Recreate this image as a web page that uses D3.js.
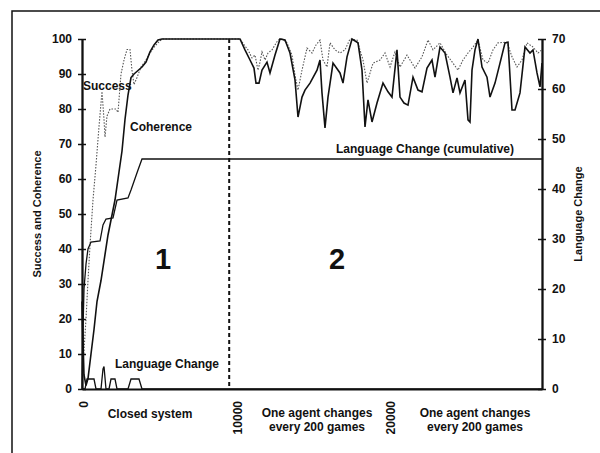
<!DOCTYPE html>
<html>
<head>
<meta charset="utf-8">
<script src="https://cdn.jsdelivr.net/npm/d3@7"></script>
<style>
  body { margin: 0; background: #fff; }
  svg { font-family: "Liberation Sans", Arial, sans-serif; }
  .tick text { font-size: 12px; font-weight: bold; fill: #111; }
  .tick line { stroke: #111; stroke-width: 1.5; }
  .domain { stroke: #111; stroke-width: 1.8; }
  .label { font-size: 12px; font-weight: bold; fill: #111; }
  .big { font-size: 29px; font-weight: bold; fill: #111; }
</style>
</head>
<body>
<div id="chart"></div>
<script>
// games, value (left axis, %)
const success = [
  [0,4],[130,11],[261,20],[391,31],[522,41],[717,54],[913,64],[1109,75],[1304,85],[1435,77],
  [1500,72],[1630,78],[1826,80],[2022,80],[2217,80],[2348,79],[2543,90],[2739,94],[2935,97],
  [3130,97],[3261,91],[3391,87],[3587,89],[3848,92],[4174,94],[4435,96],[4761,98],[5087,99.5],
  [5283,100],[9590,100],
  [10304,100],[10630,98],[10826,96.9],[11087,94.6],[11283,95.4],[11478,91.1],[11609,93.4],
  [11739,96.3],[11935,94],[12130,96],[12391,96.9],[12783,99.7],[13043,100],[13370,98.9],
  [13696,95.4],[13891,89.7],[14087,85.4],[14348,91.1],[14674,97.4],[15000,96],[15261,98.3],
  [15522,99.7],[15717,94],[15978,92],[16174,98.9],[16500,96.9],[16826,96],[17152,96.9],
  [17478,100],[17935,99.7],[18326,94],[18587,87.4],[18978,93.1],[19435,94],[19761,96],
  [20087,92],[20413,96.3],[20739,92],[21196,95.4],[21717,91.7],[22174,94.9],[22565,99.7],
  [22891,96.9],[23348,98.9],[23804,95.4],[24196,93.1],[24522,91.1],[24848,94],[25174,96],
  [25500,97.7],[25826,99.7],[26152,94],[26478,93.1],[26804,96.9],[27130,98.9],[27717,99.1],
  [28043,94.9],[28370,92],[28696,94],[29022,98.9],[29413,97.7],[29739,96],[30000,96.9]
];

const coherence = [
  [0,25],[65,14],[130,4],[261,1],[391,3],[587,10],[783,17],[978,25],[1239,31],[1696,44],
  [2152,54],[2413,62],[2609,68],[2804,77],[3000,84],[3196,89],[3391,90],[3652,91],[3913,92],
  [4174,93.4],[4435,96.3],[4696,98.3],[4957,99.7],[5217,100],[9590,100],
  [10304,100],[10630,96.9],[10957,94],[11217,91.7],[11348,87.4],[11543,87.4],[11739,91.1],
  [12065,93.4],[12261,90.3],[12587,95.4],[12913,100],[13239,99.7],[13565,96],[13891,88.3],
  [14087,77.7],[14348,83.4],[14543,85.4],[14870,87.4],[15326,91.1],[15522,94],[15652,84.6],
  [15848,74.6],[16043,83.4],[16370,93.1],[16826,90.3],[17022,87.4],[17283,94.9],[17609,100],
  [18000,98.9],[18261,91.1],[18457,74.9],[18652,82.6],[18913,76.3],[19239,81.7],[19630,87.4],
  [19957,84.9],[20217,83.4],[20543,96.9],[20739,83.4],[21000,81.7],[21261,81.1],[21587,89.1],
  [21913,85.4],[22174,84.9],[22500,91.7],[22826,94],[23022,89.1],[23348,97.7],[23674,96],
  [24000,89.1],[24196,84.6],[24457,88.9],[24652,84.6],[24978,88.3],[25174,76.9],[25304,76.3],
  [25435,91.1],[25630,96.9],[25826,100],[26087,92],[26413,89.1],[26609,83.4],[26935,87.4],
  [27261,93.1],[27587,98.9],[27783,99.1],[28043,79.7],[28239,79.7],[28565,84.6],[28891,97.7],
  [29217,96],[29413,96.9],[29674,90.3],[29870,86.3],[30000,93.1]
];

// games, value (right axis)
const cumulativeChange = [
  [0,0],[65,12],[130,20],[261,25],[391,28],[587,29.4],[1174,29.6],[1370,32.8],[1565,34],
  [2022,34.2],[2283,37.8],[3000,38.2],[3196,39.8],[3652,43.8],[3913,46],[30000,46]
];

const languageChange = [
  [0,0],[196,0],[326,2],[783,2],[913,0],[1239,0],[1370,4],[1435,4.5],[1565,0],[1761,0],
  [1891,2],[2152,2],[2283,0],[3000,0],[3196,2],[3717,2],[3913,0],[30000,0]
];

const leftTicks = [0, 10, 20, 30, 40, 50, 60, 70, 80, 90, 100];
const rightTicks = [0, 10, 20, 30, 40, 50, 60, 70];
const xTicks = [0, 10000, 20000];
const phaseBoundary = 9600;

const W = 600, H = 453;
const margin = {top: 39, right: 58, bottom: 64, left: 82};
const width = W - margin.left - margin.right,
    height = H - margin.top - margin.bottom;

const svg = d3.select("#chart").append("svg")
    .attr("width", W)
    .attr("height", H);

// frame of the figure, runs off the picture at right and bottom
svg.append("rect")
    .attr("x", 12).attr("y", 11)
    .attr("width", 620).attr("height", 480)
    .attr("fill", "none")
    .attr("stroke", "#111")
    .attr("stroke-width", 1.5);

const g = svg.append("g")
    .attr("transform", "translate(" + margin.left + "," + margin.top + ")");

const x = d3.scaleLinear().domain([0, 30000]).range([0, width]);
const yLeft = d3.scaleLinear().domain([0, 100]).range([height, 0]);
const yRight = d3.scaleLinear().domain([0, 70]).range([height, 0]);

// x axis: line only, labels rotated
g.append("g")
    .attr("transform", "translate(0," + height + ")")
    .call(d3.axisBottom(x).tickValues(xTicks).tickSize(0).tickFormat(""));

g.selectAll(".xlab")
    .data(xTicks)
    .enter().append("text")
    .attr("class", "label")
    .attr("text-anchor", "end")
    .attr("transform", function (d) {
        return "translate(" + (x(d) + 2) + "," + (height + 12) + ") rotate(-90)";
    })
    .attr("dy", "0.35em")
    .text(function (d) { return d; });

// left axis with crossing ticks
g.append("g")
    .call(d3.axisLeft(yLeft).tickValues(leftTicks).tickSizeInner(4).tickSizeOuter(0).tickPadding(6));
g.append("g")
    .call(d3.axisRight(yLeft).tickValues(leftTicks).tickSizeInner(4).tickSizeOuter(0).tickFormat(""));

// right axis with crossing ticks
g.append("g")
    .attr("transform", "translate(" + width + ",0)")
    .call(d3.axisRight(yRight).tickValues(rightTicks).tickSizeInner(4).tickSizeOuter(0).tickPadding(6));
g.append("g")
    .attr("transform", "translate(" + width + ",0)")
    .call(d3.axisLeft(yRight).tickValues(rightTicks).tickSizeInner(4).tickSizeOuter(0).tickFormat(""));

// phase boundary
g.append("line")
    .attr("x1", x(phaseBoundary)).attr("x2", x(phaseBoundary))
    .attr("y1", 0).attr("y2", height)
    .attr("stroke", "#111")
    .attr("stroke-width", 2)
    .attr("stroke-dasharray", "4,3");

const lineLeft = d3.line()
    .x(function (d) { return x(d[0]); })
    .y(function (d) { return yLeft(d[1]); });
const lineRight = d3.line()
    .x(function (d) { return x(d[0]); })
    .y(function (d) { return yRight(d[1]); });

g.append("path")
    .datum(success)
    .attr("fill", "none")
    .attr("stroke", "#555")
    .attr("stroke-width", 1.1)
    .attr("stroke-dasharray", "1.5,1.5")
    .attr("d", lineLeft);

g.append("path")
    .datum(coherence)
    .attr("fill", "none")
    .attr("stroke", "#111")
    .attr("stroke-width", 1.6)
    .attr("d", lineLeft);

g.append("path")
    .datum(cumulativeChange)
    .attr("fill", "none")
    .attr("stroke", "#111")
    .attr("stroke-width", 1.3)
    .attr("d", lineRight);

g.append("path")
    .datum(languageChange)
    .attr("fill", "none")
    .attr("stroke", "#111")
    .attr("stroke-width", 1.3)
    .attr("d", lineRight);

// annotations
function label(text, px, py, cls, anchor) {
    svg.append("text")
        .attr("class", cls || "label")
        .attr("x", px).attr("y", py)
        .attr("text-anchor", anchor || "start")
        .text(text);
}
label("Success", 83, 90);
label("Coherence", 130, 131);
label("Language Change (cumulative)", 425, 153, "label", "middle");
label("Language Change", 115, 368);
label("1", 163, 269, "big", "middle");
label("2", 337, 269, "big", "middle");
label("Closed system", 150, 418, "label", "middle");
label("One agent changes", 317, 417, "label", "middle");
label("every 200 games", 317, 431, "label", "middle");
label("One agent changes", 475, 417, "label", "middle");
label("every 200 games", 475, 431, "label", "middle");

svg.append("text")
    .attr("class", "label")
    .style("font-size", "11px")
    .attr("text-anchor", "middle")
    .attr("transform", "translate(41,214) rotate(-90)")
    .text("Success and Coherence");

svg.append("text")
    .attr("class", "label")
    .style("font-size", "11px")
    .attr("text-anchor", "middle")
    .attr("transform", "translate(582,214) rotate(-90)")
    .text("Language Change");
</script>
</body>
</html>
